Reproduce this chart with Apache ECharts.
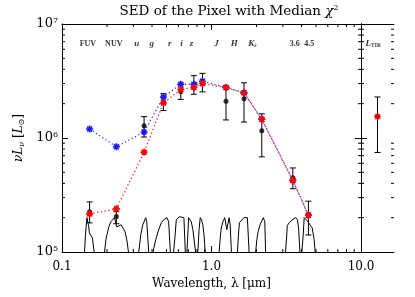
<!DOCTYPE html>
<html><head><meta charset="utf-8">
<script src="https://cdn.jsdelivr.net/npm/echarts@6/dist/echarts.min.js"></script>
<style>html,body{margin:0;padding:0;background:#fff}#c{width:415px;height:297px}</style>
</head><body><div id="c"></div>
<script>
// ---- data ----
const bands = ['FUV','NUV','u','g','r','i','z','J','H','Ks','3.6','4.5'];
const wave = [0.153,0.231,0.354,0.477,0.623,0.762,0.87,1.25,1.65,2.17,3.5,4.45];
const labelWave = [0.149,0.222,0.316,0.398,0.525,0.631,0.736,1.08,1.42,1.88,3.6,4.5];
const obs     = [2.25e5,2.05e5,1.28e6,2.08e6,2.55e6,2.77e6,3.01e6,2.10e6,2.21e6,1.16e6,4.49e5,2.13e5];
const obsLow  = [1.80e5,1.77e5,1.02e6,1.74e6,2.18e6,2.42e6,2.54e6,1.44e6,1.38e6,6.83e5,3.59e5,1.41e5];
const obsHigh = [2.75e5,2.26e5,1.54e6,2.45e6,2.94e6,3.52e6,3.69e6,2.89e6,3.05e6,1.63e6,5.46e5,2.79e5];
const modelAtt   = [2.16e5,2.39e5,7.52e5,2.03e6,2.66e6,2.77e6,3.01e6,2.77e6,2.49e6,1.46e6,4.25e5,2.10e5];
const modelUnatt = [1.20e6,8.38e5,1.13e6,2.29e6,2.96e6,2.96e6,3.15e6,2.77e6,2.49e6,1.46e6,4.25e5,2.10e5];
const tirObs = [1.54e6], tirLow = [7.47e5], tirHigh = [2.29e6], tirModel = [1.54e6];

const fuvCurve = [[0.1415,1.00e5],[0.1435,1.41e5],[0.1468,2.00e5],[0.1507,1.70e5],[0.1525,1.47e5],[0.1568,1.44e5],[0.1597,1.33e5],[0.1642,1.00e5]];
const nuvCurve = [[0.1926,1.00e5],[0.1965,1.28e5],[0.2048,1.63e5],[0.2122,1.84e5],[0.2245,2.00e5],[0.2326,1.66e5],[0.2399,1.70e5],[0.2485,1.73e5],[0.2551,1.63e5],[0.2642,1.50e5],[0.2713,1.28e5],[0.2784,1.00e5]];
const uCurve = [[0.3262,1.00e5],[0.3364,1.41e5],[0.3467,1.73e5],[0.3631,2.00e5],[0.3688,1.84e5],[0.3802,1.00e5]];
const gCurve = [[0.4062,1.00e5],[0.4233,1.28e5],[0.4385,1.50e5],[0.4620,1.81e5],[0.4786,1.92e5],[0.5035,2.00e5],[0.5168,1.84e5],[0.5305,1.00e5]];
const rCurve = [[0.558,1.00e5],[0.571,1.41e5],[0.5816,1.92e5],[0.6119,2.04e5],[0.6538,2.00e5],[0.668,1.00e5]];
const iCurve = [[0.6846,1.00e5],[0.6973,1.57e5],[0.7027,2.00e5],[0.7325,1.84e5],[0.7506,1.57e5],[0.7646,1.63e5],[0.7824,1.00e5]];
const zCurve = [[0.8105,1.00e5],[0.8255,1.57e5],[0.8408,2.00e5],[0.8577,1.92e5],[0.875,1.73e5],[0.8913,1.41e5],[0.9078,1.00e5]];
const jCurve = [[1.125,1.00e5],[1.148,1.41e5],[1.166,1.66e5],[1.193,1.84e5],[1.227,2.00e5],[1.265,1.57e5],[1.312,2.00e5],[1.333,1.73e5],[1.359,1.00e5]];
const hCurve = [[1.491,1.00e5],[1.514,1.41e5],[1.537,1.81e5],[1.585,1.88e5],[1.652,2.00e5],[1.738,2.00e5],[1.784,1.00e5]];
const ksCurve = [[1.974,1.00e5],[2.011,1.28e5],[2.048,1.50e5],[2.112,1.73e5],[2.154,1.84e5],[2.222,2.00e5],[2.273,1.84e5],[2.301,1.00e5]];
const irac1Curve = [[3.127,1.00e5],[3.186,1.41e5],[3.211,1.70e5],[3.311,1.81e5],[3.467,1.92e5],[3.659,2.00e5],[3.761,1.92e5],[3.831,1.57e5],[3.902,1.00e5]];
const irac2Curve = [[4.024,1.00e5],[4.105,1.41e5],[4.169,2.00e5],[4.365,1.88e5],[4.50,1.84e5],[4.712,1.63e5],[4.861,1.28e5],[4.935,1.00e5]];
const filterCurves = [fuvCurve,nuvCurve,uCurve,gCurve,rCurve,iCurve,zCurve,jCurve,hCurve,ksCurve,irac1Curve,irac2Curve];

const xMinorTicks = [0.2,0.3,0.4,0.5,0.6,0.7,0.8,0.9,2,3,4,5,6,7,8,9];
const yMinorTicks = [2e5,3e5,4e5,5e5,6e5,7e5,8e5,9e5,2e6,3e6,4e6,5e6,6e6,7e6,8e6,9e6];
const bandLabelLevel = 6.7e6;

// ---- chart ----
const serif = 'DejaVu Serif';
const chart = echarts.init(document.getElementById('c'), null, {renderer:'canvas'});
const star = 'path://M5,0L5,10M0,5L10,5M1.5,1.5L8.5,8.5M1.5,8.5L8.5,1.5';
const axLine = {show:true, lineStyle:{color:'#000', width:1}};
const hidden = 'rgba(0,0,0,0)';

function errBars(xs, lo, hi, xi, yi) {
  return {type:'custom', xAxisIndex:xi, yAxisIndex:yi, z:3, silent:true,
    data: xs.map((x,i)=>[x, lo[i], hi[i]]),
    renderItem:(p, api)=>{
      const a = api.coord([api.value(0), api.value(1)]);
      const b = api.coord([api.value(0), api.value(2)]);
      const st = {stroke:'#000', lineWidth:1};
      return {type:'group', children:[
        {type:'line', shape:{x1:a[0],y1:a[1],x2:b[0],y2:b[1]}, style:st},
        {type:'line', shape:{x1:a[0]-3,y1:a[1],x2:a[0]+3,y2:a[1]}, style:st},
        {type:'line', shape:{x1:b[0]-3,y1:b[1],x2:b[0]+3,y2:b[1]}, style:st}
      ]};
    }};
}
function minorY(xi, yi, dummyX) {
  return {type:'custom', xAxisIndex:xi, yAxisIndex:yi, silent:true, z:1,
    data: yMinorTicks.map(v=>[dummyX, v]),
    renderItem:(p, api)=>{
      const cs = p.coordSys; const y = api.coord([api.value(0), api.value(1)])[1];
      const st = {stroke:'#000', lineWidth:1};
      return {type:'group', children:[
        {type:'line', shape:{x1:cs.x,y1:y,x2:cs.x+3,y2:y}, style:st},
        {type:'line', shape:{x1:cs.x+cs.width-3,y1:y,x2:cs.x+cs.width,y2:y}, style:st}
      ]};
    }};
}
function minorX(xi, yi, dummyY) {
  return {type:'custom', xAxisIndex:xi, yAxisIndex:yi, silent:true, z:1,
    data: xMinorTicks.map(v=>[v, dummyY]),
    renderItem:(p, api)=>{
      const cs = p.coordSys; const x = api.coord([api.value(0), api.value(1)])[0];
      const st = {stroke:'#000', lineWidth:1};
      return {type:'group', children:[
        {type:'line', shape:{x1:x,y1:cs.y+cs.height,x2:x,y2:cs.y+cs.height-3}, style:st},
        {type:'line', shape:{x1:x,y1:cs.y,x2:x,y2:cs.y+3}, style:st}
      ]};
    }};
}

const series = [];
filterCurves.forEach(c=>series.push({type:'line', xAxisIndex:0, yAxisIndex:0, data:c, symbol:'none', silent:true, z:2,
  lineStyle:{color:'#000', width:1}}));
series.push(errBars(wave, obsLow, obsHigh, 0, 0));
series.push({type:'scatter', xAxisIndex:0, yAxisIndex:0, z:4, data: wave.map((w,i)=>[w, obs[i]]),
  symbol:'circle', symbolSize:5, itemStyle:{color:'#000'}});
series.push({type:'line', xAxisIndex:0, yAxisIndex:0, z:5, data: wave.map((w,i)=>[w, modelUnatt[i]]),
  symbol:star, symbolSize:7, showSymbol:true, itemStyle:{color:'#1515ff', borderColor:'#1515ff', borderWidth:1.6},
  lineStyle:{color:'#3a3aff', width:1.3, type:[1.3,2.5]}});
series.push({type:'line', xAxisIndex:0, yAxisIndex:0, z:6, data: wave.map((w,i)=>[w, modelAtt[i]]),
  symbol:star, symbolSize:7, showSymbol:true, itemStyle:{color:'#ff0000', borderColor:'#ff0000', borderWidth:1.6},
  lineStyle:{color:'#ff2020', width:1.3, type:[1.3,2.5]}});
// right panel (L_TIR)
series.push(errBars([0.5], tirLow, tirHigh, 2, 2));
series.push({type:'scatter', xAxisIndex:2, yAxisIndex:2, z:4, data:[[0.5, tirObs[0]]], symbol:'circle', symbolSize:5, itemStyle:{color:'#000'}});
series.push({type:'scatter', xAxisIndex:2, yAxisIndex:2, z:6, data:[[0.5, tirModel[0]]], symbol:star, symbolSize:7,
  itemStyle:{color:'#ff0000', borderColor:'#ff0000', borderWidth:1.6}});
// minor ticks
series.push(minorY(0, 0, 1));
series.push(minorX(0, 0, 1e6));
series.push(minorY(2, 2, 0.5));
// band labels
const italicBands = ['u','g','r','i','z','J','H'];
series.push({type:'scatter', xAxisIndex:0, yAxisIndex:0, z:7, symbol:'circle', symbolSize:1, silent:true,
  itemStyle:{color:hidden},
  data: labelWave.map((w,i)=>[w, bandLabelLevel]),
  label:{show:true, position:'inside', color:'#000', fontFamily:'Liberation Serif', fontWeight:'bold', fontSize:8,
    formatter:(p)=>{const b = bands[p.dataIndex];
      if (b==='Ks') return '{it|K}{sub|s}';
      if (italicBands.includes(b)) return '{it|'+b+'}';
      return b;},
    rich:{it:{fontStyle:'italic', fontWeight:'bold', fontFamily:'Liberation Serif', fontSize:9, color:'#000'},
          sub:{fontStyle:'italic', fontWeight:'bold', fontFamily:'Liberation Serif', fontSize:6, color:'#000', verticalAlign:'bottom', padding:[0,0,0,0]}}}});
series.push({type:'scatter', xAxisIndex:2, yAxisIndex:2, z:7, symbol:'circle', symbolSize:1, silent:true,
  itemStyle:{color:hidden},
  data:[[0.37, bandLabelLevel]],
  label:{show:true, position:'inside', color:'#000', formatter:'{it|L}{sub|TIR}',
    rich:{it:{fontStyle:'italic', fontWeight:'bold', fontFamily:'Liberation Serif', fontSize:9, color:'#000'},
          sub:{fontWeight:'bold', fontFamily:'Liberation Serif', fontSize:5.5, color:'#000', verticalAlign:'bottom'}}}});

const option = {
  animation:false,
  backgroundColor:'#fff',
  graphic:[{type:'text', x:229, y:11, style:{text:'SED of the Pixel with Median {c|χ}{s|2}', fill:'#000',
    font:'13.5px "DejaVu Serif"', textAlign:'center', textVerticalAlign:'middle',
    rich:{c:{fontFamily:serif, fontSize:13.5, fontStyle:'italic'}, s:{fontFamily:serif, fontSize:8, verticalAlign:'bottom', padding:[0,0,7,0]}}}}],
  grid:[{left:62, right:54, top:24, bottom:45}, {left:361, right:21, top:24, bottom:45}],
  xAxis:[
    {type:'log', gridIndex:0, min:0.1, max:10, logBase:10, position:'bottom', axisLine:axLine,
     axisTick:{show:true, inside:true, length:6, lineStyle:{color:'#000'}}, splitLine:{show:false},
     axisLabel:{margin:9, color:'#000', fontFamily:serif, fontSize:12, formatter:v=>v.toFixed(1)},
     name:'Wavelength, λ [μm]', nameLocation:'middle', nameGap:20,
     nameTextStyle:{color:'#000', fontFamily:serif, fontSize:12}},
    {type:'log', gridIndex:0, min:0.1, max:10, logBase:10, position:'top', axisLine:axLine,
     axisTick:{show:true, inside:true, length:6, lineStyle:{color:'#000'}}, splitLine:{show:false}, axisLabel:{show:false}},
    {type:'value', gridIndex:1, min:0, max:1, position:'bottom', axisLine:axLine, axisTick:{show:false}, axisLabel:{show:false}, splitLine:{show:false}},
    {type:'value', gridIndex:1, min:0, max:1, position:'top', axisLine:axLine, axisTick:{show:false}, axisLabel:{show:false}, splitLine:{show:false}}
  ],
  yAxis:[
    {type:'log', gridIndex:0, min:1e5, max:1e7, logBase:10, position:'left', axisLine:axLine,
     axisTick:{show:true, inside:true, length:6, lineStyle:{color:'#000'}}, splitLine:{show:false},
     axisLabel:{margin:4, color:'#000', formatter:v=>'{a|10}{b|'+Math.round(Math.log10(v))+'}',
       rich:{a:{fontFamily:serif, fontSize:13, color:'#000'}, b:{fontFamily:serif, fontSize:8, color:'#000', verticalAlign:'bottom', padding:[0,0,7,0]}}},
     name:'{i|νL}{sub|ν} [{i|L}{sub|⊙}]', nameLocation:'middle', nameGap:30, nameRotate:90,
     nameTextStyle:{color:'#000', fontFamily:serif, fontSize:12,
       rich:{i:{fontFamily:serif, fontSize:12, fontStyle:'italic'}, sub:{fontFamily:serif, fontSize:8, fontStyle:'italic', verticalAlign:'top', padding:[6,0,0,0]}}}},
    {type:'log', gridIndex:0, min:1e5, max:1e7, logBase:10, position:'right', axisLine:axLine,
     axisTick:{show:true, inside:true, length:6, lineStyle:{color:'#000'}}, splitLine:{show:false}, axisLabel:{show:false}},
    {type:'log', gridIndex:1, min:1e5, max:1e7, logBase:10, position:'left', axisLine:axLine,
     axisTick:{show:true, inside:true, length:6, lineStyle:{color:'#000'}}, splitLine:{show:false}, axisLabel:{show:false}},
    {type:'log', gridIndex:1, min:1e5, max:1e7, logBase:10, position:'right', axisLine:axLine,
     axisTick:{show:true, inside:true, length:6, lineStyle:{color:'#000'}}, splitLine:{show:false}, axisLabel:{show:false}}
  ],
  series: series
};
chart.setOption(option);
</script></body></html>
